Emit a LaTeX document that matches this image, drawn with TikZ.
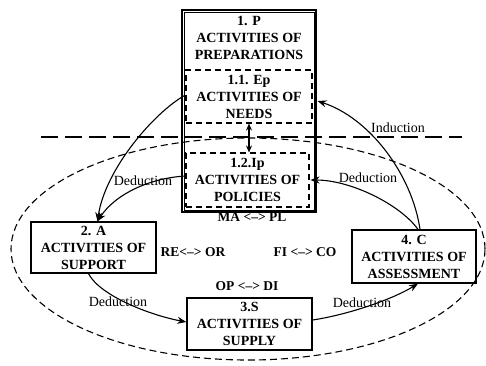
\documentclass[tikz,border=0pt]{standalone}
\usepackage{fontspec}
\setmainfont{Liberation Serif}
\usetikzlibrary{arrows.meta,calc}
\newcommand\diagboxfont{\bfseries\fontsize{14}{17}\selectfont}
\newcommand\diaglabfont{\fontsize{14}{16}\selectfont}
\newcommand\diagpairfont{\bfseries\fontsize{13.5}{16}\selectfont}
\begin{document}
\begin{tikzpicture}[x=1pt,y=-1pt,
  box/.style={draw, line width=1.3pt, inner sep=0pt, align=center, font=\diagboxfont},
  dbox/.style={box, line width=1.1pt, dash pattern=on 6pt off 4pt},
  outerbox/.style={draw, line width=1.1pt, inner sep=0pt},
  innerline/.style={draw, line width=0.7pt, inner sep=0pt},
  title/.style={align=center, inner sep=0pt, font=\diagboxfont},
  lab/.style={inner sep=0pt, font=\diaglabfont},
  pair/.style={inner sep=0pt, font=\diagpairfont},
  flow/.style={line width=1.1pt, -{Stealth[length=9pt,width=7pt]}},
  twoway/.style={line width=1.1pt, {Stealth[length=7pt,width=6pt]}-{Stealth[length=7pt,width=6pt]}},
  ring/.style={line width=1.1pt, dash pattern=on 7pt off 4pt},
  divider/.style={line width=1.1pt, dash pattern=on 17pt off 7pt}
]
\useasboundingbox (0,0) rectangle (486,365);

% dashed cycle and the induction/deduction divider
\draw[ring] (248,249) ellipse [x radius=237pt, y radius=111pt];
\coordinate (divL) at (41,137);
\coordinate (divR) at (462,137);
\draw[divider] (divL) -- (divR);

% preparation block (double frame) with its two sub-activities
\node[outerbox, minimum width=134pt, minimum height=202pt] (nP) at (249,111) {};
\node[innerline, minimum width=130pt, minimum height=198pt] (nPin) at (nP.center) {};
\node[title] (nPtext) at (249,38) {1. P\\ACTIVITIES OF\\PREPARATIONS};
\node[dbox, minimum width=126pt, minimum height=53pt] (n11) at (249,96.5) {1.1. Ep\\ACTIVITIES OF\\NEEDS};
\node[dbox, minimum width=123pt, minimum height=54pt] (n12) at (247.5,180) {1.2.Ip\\ACTIVITIES OF\\POLICIES};

% the other three activities
\node[box, minimum width=125pt, minimum height=51pt] (nA) at (93.5,247.5) {2. A\\ACTIVITIES OF\\SUPPORT};
\node[box, minimum width=124pt, minimum height=53pt] (nC) at (414,256.5) {4. C\\ACTIVITIES OF\\ASSESSMENT};
\node[box, minimum width=125pt, minimum height=52pt] (nS) at (249.5,324) {3.S\\ACTIVITIES OF\\SUPPLY};

% connectors
\draw[flow] ($(n11.west)+(0,-1.5)$) .. controls +(-31,17) and +(7.5,-52) .. ($(nA.north)+(4,0)$);
\draw[flow] ($(n12.west)+(0,-4)$) .. controls +(-36,2) and +(17.5,-27) .. ($(nA.north)+(4,0)$);
\draw[flow] ($(nA.south)+(-5,0)$) .. controls +(11.5,22) and +(-37,-7) .. ($(nS.west)+(0,-2)$);
\draw[flow] ($(nS.east)+(0,-4)$) .. controls +(33,-5) and +(-28,17) .. ($(nC.south)+(4,0)$);
\draw[flow] ($(nC.north)+(6,0)$) .. controls +(-8,-55) and +(52,17) .. ($(nP.east)+(1,-10)$);
\draw[flow] ($(nC.north)+(4,0)$) .. controls +(-18,-25) and +(40,0) .. ($(n12.east)+(1,0)$);
\draw[twoway] (n11.south) -- (n11.south |- n12.north);

% labels
\node[lab] (dedP) at (143,181) {Deduction};
\node[lab] (dedC) at (368,178) {Deduction};
\node[lab] (dedA) at (118,302) {Deduction};
\node[lab] (dedS) at (362,303) {Deduction};
\node[lab] (ind) at (398,128) {Induction};
\node[pair] (mapl) at (252,217) {MA <--> PL};
\node[pair] (reor) at (193,252) {RE<--> OR};
\node[pair] (fico) at (305,252) {FI <--> CO};
\node[pair] (opdi) at (247,286) {OP <--> DI};
\end{tikzpicture}
\end{document}
